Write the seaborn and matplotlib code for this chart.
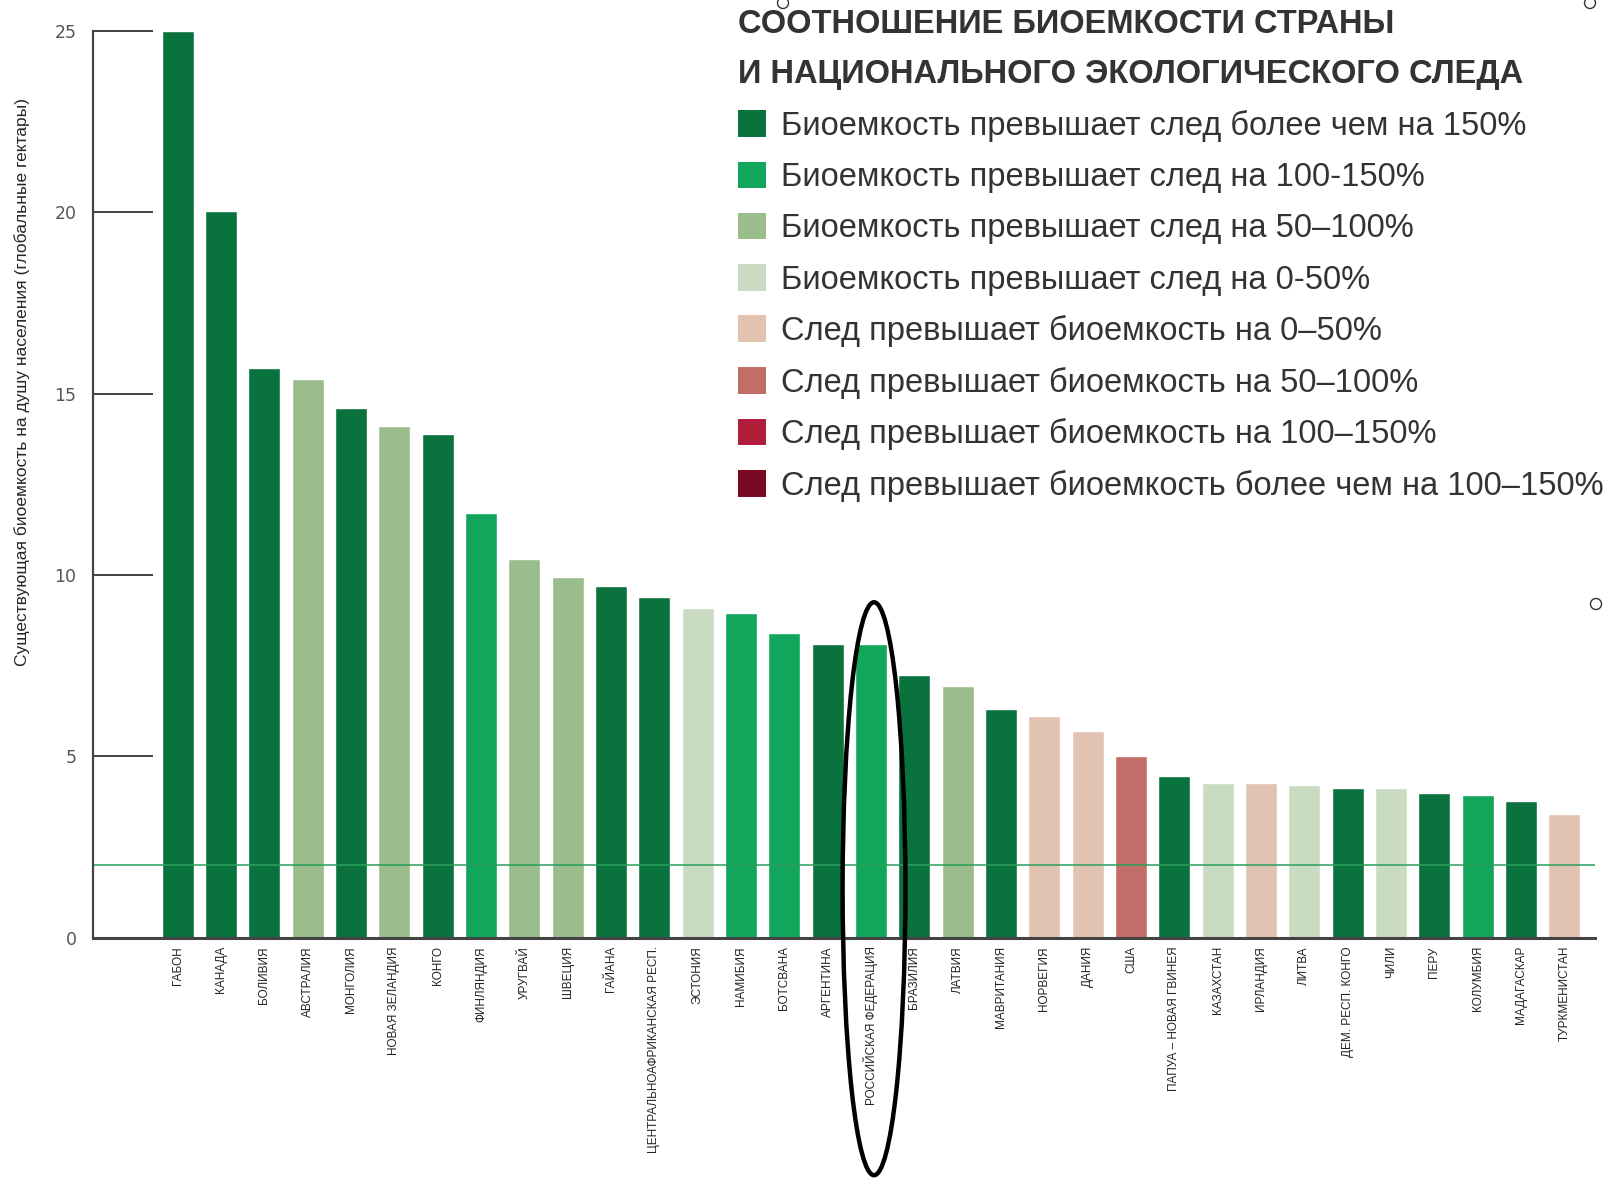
import matplotlib
matplotlib.use("Agg")
import matplotlib.pyplot as plt
from matplotlib.patches import Patch, Ellipse
import seaborn as sns
import pandas as pd

countries = [
    "ГАБОН", "КАНАДА", "БОЛИВИЯ", "АВСТРАЛИЯ", "МОНГОЛИЯ", "НОВАЯ ЗЕЛАНДИЯ",
    "КОНГО", "ФИНЛЯНДИЯ", "УРУГВАЙ", "ШВЕЦИЯ", "ГАЙАНА",
    "ЦЕНТРАЛЬНОАФРИКАНСКАЯ РЕСП.", "ЭСТОНИЯ", "НАМИБИЯ", "БОТСВАНА",
    "АРГЕНТИНА", "РОССИЙСКАЯ ФЕДЕРАЦИЯ", "БРАЗИЛИЯ", "ЛАТВИЯ", "МАВРИТАНИЯ",
    "НОРВЕГИЯ", "ДАНИЯ", "США", "ПАПУА – НОВАЯ ГВИНЕЯ", "КАЗАХСТАН",
    "ИРЛАНДИЯ", "ЛИТВА", "ДЕМ. РЕСП. КОНГО", "ЧИЛИ", "ПЕРУ", "КОЛУМБИЯ",
    "МАДАГАСКАР", "ТУРКМЕНИСТАН",
]
biocapacity = [
    25.0, 20.05, 15.7, 15.4, 14.6, 14.1,
    13.9, 11.7, 10.45, 9.95, 9.7,
    9.4, 9.1, 8.95, 8.4,
    8.1, 8.1, 7.25, 6.95, 6.3,
    6.1, 5.7, 5.0, 4.45, 4.27,
    4.27, 4.2, 4.13, 4.13, 4.0, 3.93,
    3.76, 3.4,
]
# ratio class of each country (index into category_labels)
ratio_class = [
    0, 0, 0, 2, 0, 2,
    0, 1, 2, 2, 0,
    0, 3, 1, 1,
    0, 1, 0, 2, 0,
    4, 4, 5, 0, 3,
    4, 3, 0, 3, 0, 1,
    0, 4,
]
category_labels = [
    "Биоемкость превышает след более чем на 150%",
    "Биоемкость превышает след на 100-150%",
    "Биоемкость превышает след на 50–100%",
    "Биоемкость превышает след на 0-50%",
    "След превышает биоемкость на 0–50%",
    "След превышает биоемкость на 50–100%",
    "След превышает биоемкость на 100–150%",
    "След превышает биоемкость более чем на 100–150%",
]
category_colors = [
    "#0a723c", "#12a55c", "#9bbd8b", "#c9dbc1",
    "#e2c3b1", "#c26e68", "#b01e3a", "#7a0a22",
]
world_average = 2.0
highlight_country = "РОССИЙСКАЯ ФЕДЕРАЦИЯ"
y_ticks = [0, 5, 10, 15, 20, 25]
y_label = "Существующая биоемкость на душу населения (глобальные гектары)"
legend_title = "СООТНОШЕНИЕ БИОЕМКОСТИ СТРАНЫ\nИ НАЦИОНАЛЬНОГО ЭКОЛОГИЧЕСКОГО СЛЕДА"

df = pd.DataFrame({"country": countries, "value": biocapacity,
                   "cls": [category_labels[c] for c in ratio_class]})

sns.set_theme(style="white")
plt.rcParams["font.family"] = ["Liberation Sans", "DejaVu Sans"]

W, H = 1619, 1178
fig = plt.figure(figsize=(W / 100, H / 100), dpi=100)
ax = fig.add_axes([0.0575, 0.204, 0.9275, 0.7696])

palette = dict(zip(category_labels, category_colors))
sns.barplot(data=df, x="country", y="value", hue="cls", palette=palette,
            hue_order=category_labels, dodge=False, width=0.74,
            legend=False, ax=ax, saturation=1)

ax.set_ylim(0, 25)
ax.set_xlim(-1.95, len(countries) - 0.3)
ax.set_yticks(y_ticks)
ax.set_yticklabels([str(t) for t in y_ticks], fontsize=12.5, color="#555555",
                   family=["DejaVu Sans"])
ax.tick_params(axis="y", direction="in", length=43, width=1.3,
               color="#333333", pad=12, left=True)
ax.tick_params(axis="x", length=0, pad=6)
ax.set_xticks(range(len(countries)))
ax.set_xticklabels(countries, rotation=90, fontsize=8.5, va="top",
                   color="#222222")
ax.set_xlabel("")
ax.set_ylabel(y_label, fontsize=12.5)
ax.yaxis.set_label_coords(-0.042, 0.613)

for s in ["top", "right"]:
    ax.spines[s].set_visible(False)
ax.spines["left"].set_color("#444444")
ax.spines["left"].set_linewidth(1.6)
ax.spines["bottom"].set_color("#444444")
ax.spines["bottom"].set_linewidth(2.2)

# world average line
ax.axhline(world_average, color="#2a9f5c", linewidth=1.1, zorder=1)

# highlight ellipse around one country
hx = countries.index(highlight_country)
ell = Ellipse((hx + 0.07, 1.35), width=1.45, height=15.8, fill=False,
              edgecolor="black", linewidth=3.2, clip_on=False, zorder=5)
ax.add_patch(ell)

# small hollow frame handles
r = 5.5
for cx, cy in [(783, 3), (1596, 604), (1590, 3)]:
    fig.add_artist(Ellipse((cx / W, 1 - cy / H), 2 * r / W, 2 * r / H,
                           transform=fig.transFigure, fill=False,
                           edgecolor="#333333", linewidth=1.0))

# legend
handles = [Patch(facecolor=c, edgecolor="none") for c in category_colors]
leg = fig.legend(handles, category_labels, loc="upper left",
                 bbox_to_anchor=(0.4455, 1.006), frameon=False, borderpad=0,
                 fontsize=23.5, handlelength=0.88, handleheight=0.88,
                 handletextpad=0.45, labelspacing=0.6,
                 title=legend_title, alignment="left",
                 title_fontproperties={"weight": "bold", "size": 23.5})
for t in leg.get_texts():
    t.set_color("#333333")
leg.get_title().set_color("#333333")
leg.get_title().set_linespacing(1.8)

fig.savefig("out.png", dpi=100, facecolor="white")
